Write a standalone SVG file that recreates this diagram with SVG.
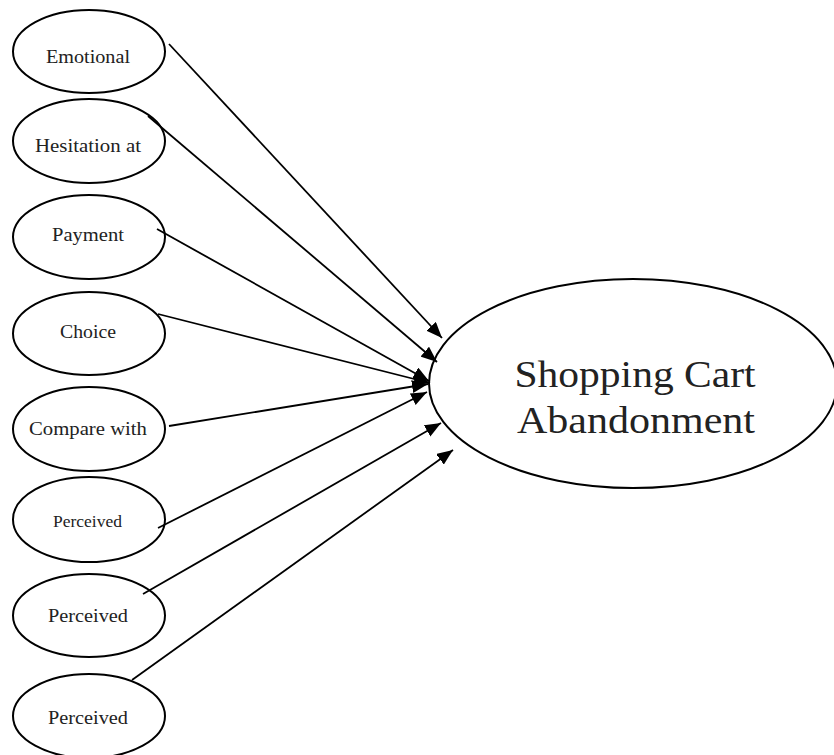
<svg xmlns="http://www.w3.org/2000/svg" width="834" height="755" viewBox="0 0 834 755">
<style>
.node ellipse{fill:#fff;stroke:#000;stroke-width:2}
.lbl{font-family:"Liberation Serif","Times New Roman",serif;font-size:19px;fill:#222;text-anchor:middle}
.big{font-family:"Liberation Serif","Times New Roman",serif;font-size:37px;fill:#222;text-anchor:middle}
.edges line{stroke:#000;stroke-width:1.8;marker-end:url(#ah)}
</style>
<defs>
<marker id="ah" markerUnits="userSpaceOnUse" markerWidth="17" markerHeight="13" refX="16" refY="6.5" orient="auto">
<path d="M0,0 L16,6.5 L0,13 z" fill="#000"/>
</marker>
</defs>
<rect width="834" height="755" fill="#fff"/>
<g id="n-emotional" class="node"><ellipse cx="89" cy="51.5" rx="76" ry="41.5"/><text class="lbl" x="88" y="63" textLength="84" lengthAdjust="spacingAndGlyphs">Emotional</text></g>
<g id="n-hesitation" class="node"><ellipse cx="89" cy="141" rx="76" ry="42"/><text class="lbl" x="88" y="152" textLength="106" lengthAdjust="spacingAndGlyphs">Hesitation at</text></g>
<g id="n-payment" class="node"><ellipse cx="89" cy="237" rx="76" ry="42"/><text class="lbl" x="88" y="241" textLength="72" lengthAdjust="spacingAndGlyphs">Payment</text></g>
<g id="n-choice" class="node"><ellipse cx="89" cy="333.5" rx="76" ry="41.5"/><text class="lbl" x="88" y="338" textLength="56" lengthAdjust="spacingAndGlyphs">Choice</text></g>
<g id="n-compare" class="node"><ellipse cx="89" cy="429" rx="76" ry="42"/><text class="lbl" x="88" y="435" textLength="118" lengthAdjust="spacingAndGlyphs">Compare with</text></g>
<g id="n-perceived1" class="node"><ellipse cx="89" cy="519.5" rx="76" ry="42.5"/><text class="lbl" x="87.5" y="527" style="font-size:16.5px" textLength="69" lengthAdjust="spacingAndGlyphs">Perceived</text></g>
<g id="n-perceived2" class="node"><ellipse cx="89" cy="615.5" rx="76" ry="41.5"/><text class="lbl" x="88" y="622" textLength="80" lengthAdjust="spacingAndGlyphs">Perceived</text></g>
<g id="n-perceived3" class="node"><ellipse cx="89" cy="716" rx="76" ry="42"/><text class="lbl" x="88" y="724" textLength="80" lengthAdjust="spacingAndGlyphs">Perceived</text></g>
<g id="n-sca" class="node"><ellipse cx="633" cy="383.5" rx="204" ry="104.5"/><text class="big" x="635" y="387" textLength="241" lengthAdjust="spacingAndGlyphs">Shopping Cart</text><text class="big" x="636" y="433" textLength="238" lengthAdjust="spacingAndGlyphs">Abandonment</text></g>
<g id="edges" class="edges">
<line x1="169" y1="44" x2="442" y2="338"/>
<line x1="148" y1="116" x2="437" y2="362"/>
<line x1="157" y1="229" x2="429" y2="381"/>
<line x1="158" y1="314" x2="430" y2="383"/>
<line x1="169" y1="426" x2="428" y2="384"/>
<line x1="158" y1="528" x2="427" y2="392"/>
<line x1="143" y1="594" x2="441" y2="423"/>
<line x1="132" y1="680" x2="453" y2="450"/>
</g>
</svg>
